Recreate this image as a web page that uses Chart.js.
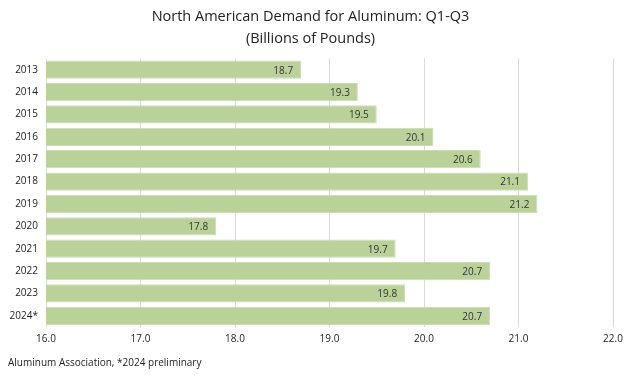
<!DOCTYPE html>
<html>
<head>
<meta charset="utf-8">
<script src="https://cdn.jsdelivr.net/npm/chart.js@4/dist/chart.umd.min.js"></script>
<style>
  html, body { margin: 0; padding: 0; background: #fff; }
  #wrap { width: 640px; height: 375px; }
</style>
</head>
<body>
<div id="wrap"><canvas id="demandChart"></canvas></div>
<script>
// Years (categories)
const years = ['2013', '2014', '2015', '2016', '2017', '2018', '2019', '2020', '2021', '2022', '2023', '2024*'];

// Demand, billions of pounds
const demand = [18.7, 19.3, 19.5, 20.1, 20.6, 21.1, 21.2, 17.8, 19.7, 20.7, 19.8, 20.7];

// Axis range / ticks
const xMin = 16;
const xMax = 22;
const xStep = 1;

const fontFamily = "'Open Sans', 'Noto Sans', sans-serif";

// Draw value labels just inside the end of each bar
const barLabels = {
    id: 'barLabels',
    afterDatasetsDraw(chart) {
        const ctx = chart.ctx;
        const meta = chart.getDatasetMeta(0);
        ctx.save();
        ctx.font = '10px ' + fontFamily;
        ctx.fillStyle = '#333333';
        ctx.textAlign = 'right';
        ctx.textBaseline = 'middle';
        meta.data.forEach((bar, i) => {
            ctx.fillText(demand[i].toFixed(1), bar.x - 8, bar.y + 1);
        });
        ctx.restore();
    }
};

const ctx = document.getElementById('demandChart').getContext('2d');

new Chart(ctx, {
    type: 'bar',
    data: {
        labels: years,
        datasets: [{
            data: demand,
            backgroundColor: '#bbd19a',
            borderColor: '#cbdcb3',
            borderWidth: 1,
            barPercentage: 0.82,
            categoryPercentage: 1.0
        }]
    },
    options: {
        indexAxis: 'y',
        responsive: true,
        maintainAspectRatio: false,
        animation: false,
        layout: { padding: { left: 8, right: 27, top: 4, bottom: 6 } },
        plugins: {
            legend: { display: false },
            tooltip: { enabled: false },
            title: {
                display: true,
                text: ['North American Demand for Aluminum: Q1-Q3', '(Billions of Pounds)'],
                color: '#222222',
                font: { family: fontFamily, size: 14.5, weight: 'normal', lineHeight: 1.5 },
                padding: { top: 2, bottom: 9 }
            },
            subtitle: {
                display: true,
                position: 'bottom',
                align: 'start',
                text: 'Aluminum Association, *2024 preliminary',
                color: '#222222',
                font: { family: fontFamily, size: 10 },
                padding: { top: 6, bottom: 0 }
            }
        },
        scales: {
            x: {
                min: xMin,
                max: xMax,
                ticks: {
                    stepSize: xStep,
                    color: '#222222',
                    font: { family: fontFamily, size: 10 },
                    padding: 6,
                    callback: v => Number(v).toFixed(1)
                },
                grid: { color: '#d9d9d9', drawTicks: false },
                border: { display: false }
            },
            y: {
                ticks: {
                    color: '#222222',
                    font: { family: fontFamily, size: 10 },
                    padding: 8
                },
                grid: { display: false, drawTicks: false },
                border: { display: false },
                afterFit(scale) { scale.width = 38; }
            }
        }
    },
    plugins: [barLabels]
});
</script>
</body>
</html>
